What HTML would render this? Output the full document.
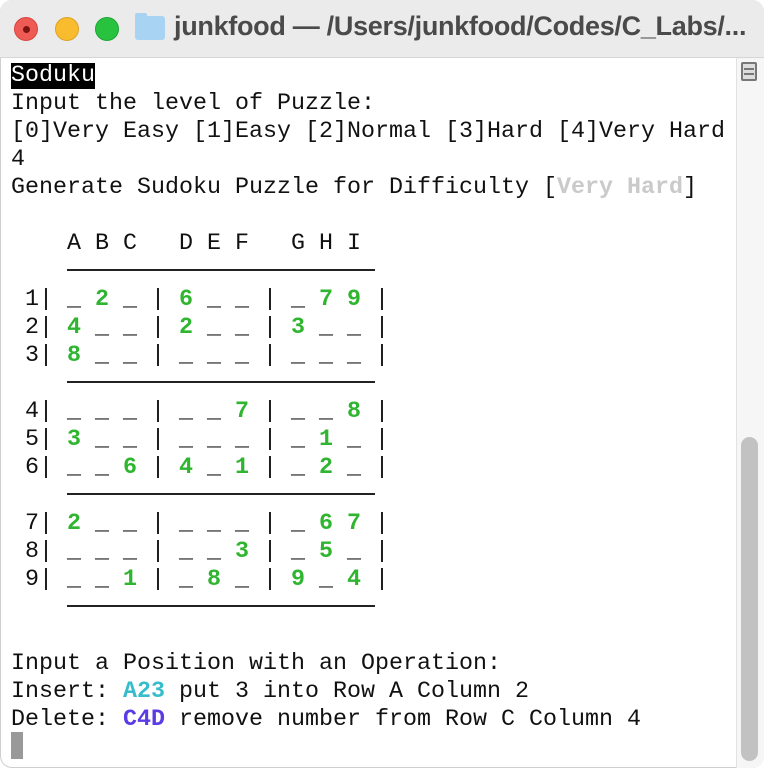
<!DOCTYPE html>
<html><head><meta charset="utf-8"><style>
html,body{margin:0;padding:0;width:764px;height:768px;background:#fff;overflow:hidden}
.win{position:absolute;left:0;top:0;width:764px;height:768px;border-radius:12px;overflow:hidden;background:#fff;box-shadow:inset 0 0 0 1px #cfcfcf}
.tb{position:absolute;left:0;top:0;width:764px;height:57px;background:#ebebeb;border-bottom:1px solid #d6d6d6}
.dot{position:absolute;top:17px;width:24px;height:24px;border-radius:50%}
.title{position:absolute;left:174px;top:11px;font:bold 27px "Liberation Sans",sans-serif;color:#4a4a4a;white-space:nowrap;letter-spacing:-0.3px}
.l{position:absolute;left:11px;font-family:"Liberation Mono",monospace;font-size:23.33px;line-height:28px;height:28px;white-space:pre;color:#111}
.g{color:#2fb52f;font-weight:bold}
.hl{background:#000;color:#fff}
.hr{position:absolute;left:67px;width:308px;height:2px;background:#222}
</style></head><body><div class="win">
<div class="tb">
<div class="dot" style="left:14px;background:#ee5b55;border:1px solid #d8453f;width:22px;height:22px"><div style="position:absolute;left:8px;top:8px;width:7px;height:7px;border-radius:50%;background:#7a1410"></div></div>
<div class="dot" style="left:55px;background:#f8bc2e;border:1px solid #dca225;width:22px;height:22px"></div>
<div class="dot" style="left:95px;background:#29c23f;border:1px solid #1ea632;width:22px;height:22px"></div>
<div style="position:absolute;left:135px;top:16px;width:30px;height:24px;background:#a9d3f2;border-radius:3px"><div style="position:absolute;left:0;top:-3px;width:12px;height:5px;background:#a9d3f2;border-radius:2px 2px 0 0"></div></div>
<div class="title">junkfood — /Users/junkfood/Codes/C_Labs/...</div>
</div>
<div style="position:absolute;left:736px;top:58px;width:28px;height:710px;background:#f6f6f6;border-left:1px solid #e2e2e2"></div>
<div style="position:absolute;left:741px;top:62px;width:16px;height:19px;border:2px solid #777;box-sizing:border-box;border-radius:2px;background:#ddd"><div style="position:absolute;left:1px;top:4px;width:10px;height:2px;background:#777"></div><div style="position:absolute;left:1px;top:9px;width:10px;height:2px;background:#777"></div></div>
<div style="position:absolute;left:741px;top:437px;width:17px;height:324px;background:#c2c2c2;border-radius:9px"></div>

<div class="l" style="top:62px"><span class="hl">Soduku</span></div>
<div class="l" style="top:90px">Input the level of Puzzle:</div>
<div class="l" style="top:118px">[0]Very Easy [1]Easy [2]Normal [3]Hard [4]Very Hard</div>
<div class="l" style="top:146px">4</div>
<div class="l" style="top:174px">Generate Sudoku Puzzle for Difficulty [<b style="color:#cacaca">Very Hard</b>]</div>
<div class="l" style="top:230px">    A B C   D E F   G H I</div>
<div class="hr" style="top:269px"></div>
<div class="l" style="top:286px"> 1| _ <span class="g">2</span> _ | <span class="g">6</span> _ _ | _ <span class="g">7</span> <span class="g">9</span> |</div>
<div class="l" style="top:314px"> 2| <span class="g">4</span> _ _ | <span class="g">2</span> _ _ | <span class="g">3</span> _ _ |</div>
<div class="l" style="top:342px"> 3| <span class="g">8</span> _ _ | _ _ _ | _ _ _ |</div>
<div class="hr" style="top:381px"></div>
<div class="l" style="top:398px"> 4| _ _ _ | _ _ <span class="g">7</span> | _ _ <span class="g">8</span> |</div>
<div class="l" style="top:426px"> 5| <span class="g">3</span> _ _ | _ _ _ | _ <span class="g">1</span> _ |</div>
<div class="l" style="top:454px"> 6| _ _ <span class="g">6</span> | <span class="g">4</span> _ <span class="g">1</span> | _ <span class="g">2</span> _ |</div>
<div class="hr" style="top:493px"></div>
<div class="l" style="top:510px"> 7| <span class="g">2</span> _ _ | _ _ _ | _ <span class="g">6</span> <span class="g">7</span> |</div>
<div class="l" style="top:538px"> 8| _ _ _ | _ _ <span class="g">3</span> | _ <span class="g">5</span> _ |</div>
<div class="l" style="top:566px"> 9| _ _ <span class="g">1</span> | _ <span class="g">8</span> _ | <span class="g">9</span> _ <span class="g">4</span> |</div>
<div class="hr" style="top:605px"></div>
<div class="l" style="top:650px">Input a Position with an Operation:</div>
<div class="l" style="top:678px">Insert: <b style="color:#36bccb">A23</b> put 3 into Row A Column 2</div>
<div class="l" style="top:706px">Delete: <b style="color:#5b3be6">C4D</b> remove number from Row C Column 4</div>
<div style="position:absolute;left:11px;top:732px;width:12px;height:27px;background:#999"></div>
</div></body></html>
